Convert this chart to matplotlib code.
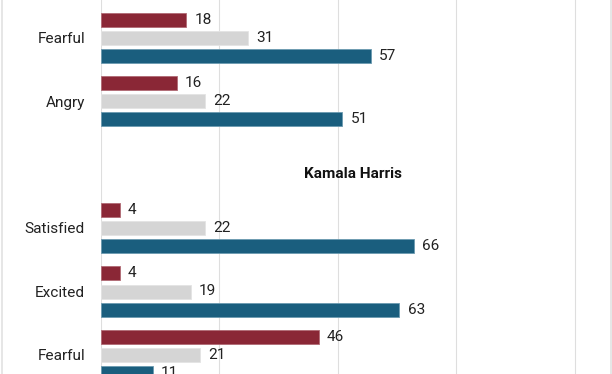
import numpy as np
import matplotlib
matplotlib.use("Agg")
import matplotlib.pyplot as plt

plt.rcParams['font.family'] = ['Roboto', 'DejaVu Sans']

# ---- data (top to bottom) ----
trump_categories = ["Excited", "Fearful", "Angry"]
trump_red = [np.nan, 18, 16]
trump_gray = [np.nan, 31, 22]
trump_blue = [7, 57, 51]

harris_header = "Kamala Harris"
harris_categories = ["Satisfied", "Excited", "Fearful"]
harris_red = [4, 4, 46]
harris_gray = [22, 19, 21]
harris_blue = [66, 63, 11]

grid_ticks = [0, 25, 50, 75, 100]

# ---- style ----
RED = "#8A2736"
GRAY = "#D5D5D5"
BLUE = "#1A5E7E"
GRID = "#DEDEDE"
TEXT = "#222222"

W, H = 612, 374
fig = plt.figure(figsize=(W / 100, H / 100), dpi=100)
fig.patch.set_facecolor("white")

ax_left_px, ax_right_px = 100.7, 606
ax = fig.add_axes([ax_left_px / W, 0, (ax_right_px - ax_left_px) / W, 1])

# slot layout: slot 0 = partial group at top
step_px = 63.5
first_center_px = -26.0

off = 18 / step_px
bh = 14 / step_px

cats = []
reds, grays, blues, slots = [], [], [], []
s = 0
for c, r, g, b in zip(trump_categories, trump_red, trump_gray, trump_blue):
    cats.append(c); reds.append(r); grays.append(g); blues.append(b); slots.append(s); s += 1
header_slot = s
s += 1
for c, r, g, b in zip(harris_categories, harris_red, harris_gray, harris_blue):
    cats.append(c); reds.append(r); grays.append(g); blues.append(b); slots.append(s); s += 1

slots = np.array(slots, dtype=float)
reds = np.array(reds, dtype=float)
grays = np.array(grays, dtype=float)
blues = np.array(blues, dtype=float)

for vals, dy, col, edge in [(reds, -off, RED, "#B06A74"),
                            (grays, 0, GRAY, "#E4E4E4"),
                            (blues, off, BLUE, "#6B9AB0")]:
    ys = slots + dy
    ax.barh(ys, vals, height=bh, color=col, edgecolor=edge, linewidth=0.6, zorder=3)
    for y, v in zip(ys, vals):
        if np.isnan(v):
            continue
        ax.annotate(f"{int(v)}", xy=(v, y), xytext=(6, 0), textcoords="offset points",
                    ha="left", va="center", fontsize=11.1, color=TEXT, zorder=4,
                    annotation_clip=False)

ax.set_yticks(slots)
ax.set_yticklabels(cats, fontsize=11.1, color=TEXT)
ax.tick_params(axis="y", length=0, pad=11.3)
ax.set_xticks(grid_ticks)
ax.tick_params(axis="x", length=0, labelbottom=False)
ax.xaxis.grid(True, color=GRID, linewidth=0.8, zorder=0)
ax.set_axisbelow(True)
for sp in ax.spines.values():
    sp.set_visible(False)

ax.text(0.5, header_slot + 9 / step_px, harris_header, transform=ax.get_yaxis_transform(),
        ha="center", va="center", fontsize=11, fontweight="bold", color="#111111")

# limits last (set_yticks may expand them)
ax.set_xlim(0, (ax_right_px - ax_left_px) / 4.74)
ax.set_ylim((H - first_center_px) / step_px, (0 - first_center_px) / step_px)

# figure border lines
fig.add_artist(plt.Line2D([1.5 / W, 1.5 / W], [0, 1], color="#E2E2E2", linewidth=1.2))
fig.add_artist(plt.Line2D([(W - 1) / W, (W - 1) / W], [0, 1], color="#E2E2E2", linewidth=1.2))

fig.savefig("out.png", dpi=100, facecolor="white")
